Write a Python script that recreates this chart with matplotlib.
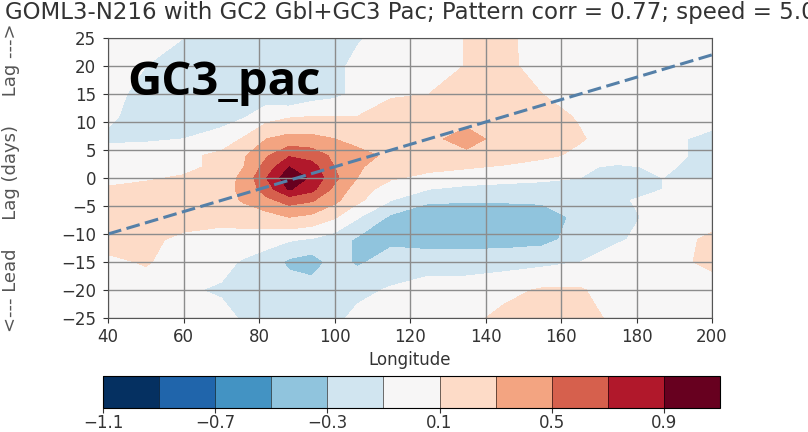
import numpy as np
import matplotlib
matplotlib.use('Agg')
from matplotlib import pyplot as plt

# lag-longitude correlation field
lons = [40, 50, 60, 70, 76, 82, 88, 94, 100, 106, 115, 125, 135, 145, 155, 165, 175, 187, 200]
lags = [-25, -20, -15, -11, -7, -4, -2, 0, 2, 4, 7, 11, 15, 20, 25]

corr = [
    # lag -25
    [0.0, 0.0, 0.0, -0.05, -0.12, -0.2, -0.2, -0.2, -0.15, -0.05, 0.0, 0.0, 0.05, 0.15, 0.2, 0.18, 0.05, 0.0, 0.0],
    # lag -20
    [0.0, 0.0, -0.08, -0.12, -0.15, -0.18, -0.2, -0.2, -0.2, -0.15, -0.08, 0.0, 0.0, 0.05, 0.12, 0.12, 0.0, 0.0, 0.0],
    # lag -15
    [0.05, 0.12, 0.0, -0.05, -0.12, -0.2, -0.34, -0.4, -0.22, -0.33, -0.22, -0.2, -0.2, -0.18, -0.15, -0.1, 0.0, 0.02, 0.15],
    # lag -11
    [0.2, 0.15, 0.05, 0.0, 0.0, -0.02, -0.08, -0.12, -0.2, -0.33, -0.34, -0.38, -0.38, -0.38, -0.36, -0.22, -0.12, -0.02, 0.15],
    # lag -7
    [0.2, 0.2, 0.2, 0.18, 0.2, 0.22, 0.3, 0.25, 0.12, -0.08, -0.34, -0.4, -0.42, -0.42, -0.4, -0.25, -0.15, -0.05, 0.0],
    # lag -4
    [0.18, 0.2, 0.2, 0.22, 0.32, 0.45, 0.58, 0.52, 0.35, 0.15, -0.1, -0.28, -0.28, -0.28, -0.27, -0.18, -0.12, -0.05, 0.0],
    # lag -2
    [0.12, 0.15, 0.18, 0.22, 0.35, 0.6, 0.92, 0.76, 0.45, 0.2, 0.0, -0.1, -0.15, -0.15, -0.14, -0.14, -0.12, -0.1, 0.0],
    # lag 0
    [0.05, 0.08, 0.12, 0.2, 0.35, 0.7, 1.05, 0.86, 0.55, 0.3, 0.12, 0.05, 0.0, -0.05, -0.08, -0.1, -0.12, -0.1, -0.12],
    # lag 2
    [0.0, 0.02, 0.05, 0.15, 0.3, 0.58, 0.9, 0.78, 0.5, 0.32, 0.22, 0.15, 0.12, 0.08, 0.0, -0.08, -0.12, -0.08, -0.15],
    # lag 4
    [-0.05, -0.02, 0.05, 0.15, 0.28, 0.48, 0.68, 0.62, 0.45, 0.38, 0.25, 0.22, 0.25, 0.2, 0.15, 0.05, -0.02, -0.05, -0.15],
    # lag 7
    [-0.12, -0.12, -0.1, -0.02, 0.12, 0.3, 0.36, 0.35, 0.3, 0.22, 0.2, 0.25, 0.38, 0.22, 0.2, 0.12, 0.0, -0.05, -0.15],
    # lag 11
    [-0.08, -0.15, -0.18, -0.18, -0.12, 0.02, 0.08, 0.1, 0.1, 0.1, 0.18, 0.2, 0.22, 0.2, 0.18, 0.08, 0.0, 0.0, -0.02],
    # lag 15
    [-0.05, -0.15, -0.18, -0.2, -0.2, -0.22, -0.31, -0.2, -0.15, -0.05, 0.08, 0.1, 0.15, 0.15, 0.1, 0.0, 0.0, 0.0, 0.0],
    # lag 20
    [0.0, -0.1, -0.2, -0.2, -0.2, -0.2, -0.2, -0.2, -0.15, -0.05, 0.0, 0.0, 0.11, 0.15, 0.02, 0.0, 0.0, 0.0, 0.0],
    # lag 25
    [0.0, 0.0, -0.1, -0.2, -0.2, -0.2, -0.2, -0.2, -0.2, -0.12, -0.02, 0.0, 0.11, 0.15, 0.0, 0.0, 0.0, 0.0, 0.0],
]

# propagation line (longitude, lag)
line_lon = [40, 200]
line_lag = [-10, 22]

levels = np.arange(-1.1, 1.11, 0.2)
cbar_ticks = [-1.1, -0.7, -0.3, 0.1, 0.5, 0.9]
cbar_labels = ['\u22121.1', '\u22120.7', '\u22120.3', '0.1', '0.5', '0.9']

fig = plt.figure(figsize=(8.08, 4.32), dpi=100)
ax = fig.add_axes([0.1337, 0.2639, 0.7475, 0.648])
cax = fig.add_axes([0.1275, 0.0555, 0.7636, 0.074])

colors = plt.get_cmap('RdBu_r')(np.linspace(0, 1, 11))
cf = ax.contourf(lons, lags, np.array(corr), levels=levels, colors=colors)
ax.plot(line_lon, line_lag, color='#5580a8', linewidth=2.2, dashes=(4.5, 1.8))

ax.set_xlim(40, 200)
ax.set_ylim(-25, 25)
ax.set_xticks(range(40, 201, 20))
ax.set_yticks(range(-25, 26, 5))
ax.grid(True, color='#8c8c8c', linewidth=1)
ax.tick_params(labelsize=12, colors='#333333')
ax.tick_params(axis='y', pad=5)
for s in ax.spines.values():
    s.set_color('#555555')

ax.set_xlabel('Longitude', fontsize=12, color='#333333', labelpad=4)
ax.set_ylabel('<--- Lead     Lag (days)     Lag --->', fontsize=13, color='#555555')
ax.yaxis.set_label_coords(-0.146, 0.5)

ax.text(0.032, 0.84, 'GC3_pac', transform=ax.transAxes, fontsize=34,
        fontweight='bold', family='Open Sans', color='black', va='center')

fig.text(0.006, 0.972, 'GOML3-N216 with GC2 Gbl+GC3 Pac; Pattern corr = 0.77; speed = 5.0 m/s',
         fontsize=16.5, color='#333333', va='center', ha='left')

cb = fig.colorbar(cf, cax=cax, orientation='horizontal', ticks=cbar_ticks, drawedges=True)
cb.ax.tick_params(labelsize=12, colors='#333333', pad=1)
cb.ax.set_xticklabels(cbar_labels)

plt.savefig('out.png', dpi=100)
